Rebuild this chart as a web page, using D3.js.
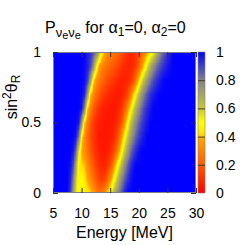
<!DOCTYPE html>
<html>
<head>
<meta charset="utf-8">
<script src="https://cdn.jsdelivr.net/npm/d3@7"></script>
<style>
  body { margin: 0; background: #fff; }
  svg text { font-family: "Liberation Sans", Arial, sans-serif; fill: #000; }
</style>
</head>
<body>
<div id="chart"></div>
<script>
// =============================================================
// DATA  (survival probability)

let energies = [5, 5.5, 6, 6.5, 7, 7.5, 8, 8.5, 9, 9.5, 10, 10.5, 11, 11.5, 12, 12.5,
                13, 13.5, 14, 14.5, 15, 15.5, 16, 16.5, 17, 17.5, 18, 18.5, 19, 19.5,
                20, 20.5, 21, 21.5, 22, 22.5, 23, 23.5, 24, 24.5, 25, 25.5, 26, 26.5,
                27, 27.5, 28, 28.5, 29, 29.5, 30];
let sin2 = [0, 0.1, 0.2, 0.3, 0.4, 0.5, 0.6, 0.7, 0.8, 0.9, 1];

// one row per sin2 value, one column per energy
let prob = [
  [1,1,1,1,1,1,.92,.75,.55,.48,.56,.48,.45,.42,.36,.30,.26,.27,.33,.42,.50,.62,.72,.80,.88,.95,1,1,1,1,1,1,1,1,1,1,1,1,1,1,1,1,1,1,1,1,1,1,1,1,1],
  [1,1,1,1,1,1,.95,.82,.60,.47,.50,.44,.38,.32,.26,.20,.15,.13,.15,.22,.33,.45,.56,.68,.78,.86,.92,.97,1,1,1,1,1,1,1,1,1,1,1,1,1,1,1,1,1,1,1,1,1,1,1],
  [1,1,1,1,1,1,.98,.90,.70,.45,.42,.40,.33,.26,.20,.14,.10,.08,.08,.11,.17,.28,.42,.52,.65,.76,.85,.92,.97,1,1,1,1,1,1,1,1,1,1,1,1,1,1,1,1,1,1,1,1,1,1],
  [1,1,1,1,1,1,1,.97,.85,.55,.38,.32,.26,.20,.15,.10,.07,.05,.05,.06,.09,.14,.22,.35,.48,.60,.72,.82,.89,.94,.98,1,1,1,1,1,1,1,1,1,1,1,1,1,1,1,1,1,1,1,1],
  [1,1,1,1,1,1,1,1,.97,.82,.45,.32,.24,.17,.12,.09,.06,.05,.05,.05,.06,.08,.13,.22,.35,.48,.60,.70,.79,.86,.91,.95,.98,1,1,1,1,1,1,1,1,1,1,1,1,1,1,1,1,1,1],
  [1,1,1,1,1,1,1,1,1,.97,.75,.42,.30,.20,.13,.09,.07,.06,.05,.05,.05,.06,.08,.12,.20,.33,.47,.60,.70,.78,.85,.90,.94,.97,1,1,1,1,1,1,1,1,1,1,1,1,1,1,1,1,1],
  [1,1,1,1,1,1,1,1,1,1,.97,.78,.42,.30,.22,.15,.11,.08,.07,.06,.05,.05,.06,.08,.12,.20,.32,.45,.57,.68,.77,.84,.90,.94,.97,1,1,1,1,1,1,1,1,1,1,1,1,1,1,1,1],
  [1,1,1,1,1,1,1,1,1,1,.99,.95,.75,.42,.32,.25,.20,.15,.12,.10,.08,.07,.06,.06,.07,.10,.16,.26,.40,.52,.64,.74,.82,.88,.93,.96,.98,1,1,1,1,1,1,1,1,1,1,1,1,1,1],
  [1,1,1,1,1,1,1,1,1,1,1,.98,.92,.75,.45,.34,.28,.24,.20,.17,.14,.12,.10,.08,.07,.07,.08,.11,.17,.28,.42,.55,.66,.75,.82,.88,.92,.95,.98,1,1,1,1,1,1,1,1,1,1,1,1],
  [1,1,1,1,1,1,1,1,1,1,1,.99,.96,.90,.78,.55,.38,.31,.28,.25,.22,.20,.17,.14,.11,.09,.08,.08,.10,.14,.22,.33,.45,.56,.67,.75,.82,.87,.91,.94,.97,.99,1,1,1,1,1,1,1,1,1],
  [1,1,1,1,1,1,1,1,1,1,1,1,.96,.93,.88,.80,.66,.48,.38,.32,.29,.27,.25,.22,.18,.14,.10,.08,.08,.10,.15,.22,.30,.38,.45,.52,.64,.74,.82,.87,.92,.96,1,1,1,1,1,1,1,1,1]
];

let xTicks  = [5, 10, 15, 20, 25, 30];
let yTicks  = [0, 0.5, 1];
let cbTicks = [0, 0.2, 0.4, 0.6, 0.8, 1];

// palette (value -> colour)
let palStops  = [0, 0.2, 0.38, 0.42, 0.5, 0.6, 0.8, 1];
let palColors = ['#ff0000', '#ff5a00', '#ffa500', '#ffe000', '#ffff00', '#c8c83c', '#80808c', '#0000ff'];

// =============================================================
// LAYOUT

let width = 249, height = 245;
let plot = { left: 53, right: 196, top: 52, bottom: 193 };
let cbar = { left: 198, right: 205 };

let x_scale = d3.scaleLinear().domain([5, 30]).range([plot.left, plot.right]);
let y_scale = d3.scaleLinear().domain([0, 1]).range([plot.bottom, plot.top]);
let colour = d3.scaleLinear().domain(palStops).range(palColors).clamp(true);

let svg = d3.select('#chart')
            .append('svg')
            .attr('width', width)
            .attr('height', height);

// =============================================================
// HEATMAP
// the grid is put in a tiny grey image (one pixel per value), the browser
// scales it smoothly, then each pixel gets its palette colour

function heatmapURL() {
    let nx = energies.length, ny = sin2.length;
    let src = document.createElement('canvas');
    src.width = nx; src.height = ny;
    let sctx = src.getContext('2d');
    let im = sctx.createImageData(nx, ny);
    prob.forEach(function (row, i) {
        row.forEach(function (v, j) {
            let k = ((ny - 1 - i) * nx + j) * 4;   // top row = sin2 = 1
            let g = Math.round(v * 255);
            im.data[k] = g; im.data[k + 1] = g; im.data[k + 2] = g; im.data[k + 3] = 255;
        });
    });
    sctx.putImageData(im, 0, 0);

    let pw = plot.right - plot.left, ph = plot.bottom - plot.top;
    let cw = (x_scale(energies[1]) - x_scale(energies[0]));
    let ch = (y_scale(sin2[0]) - y_scale(sin2[1]));
    let big = document.createElement('canvas');
    big.width = pw; big.height = ph;
    let ctx = big.getContext('2d');
    ctx.imageSmoothingEnabled = true;
    ctx.drawImage(src,
                  x_scale(energies[0]) - cw / 2 - plot.left,
                  y_scale(sin2[ny - 1]) - ch / 2 - plot.top,
                  nx * cw, ny * ch);
    let data = ctx.getImageData(0, 0, pw, ph);
    for (let k = 0; k < data.data.length; k += 4) {
        let c = d3.rgb(colour(data.data[k] / 255));
        data.data[k] = c.r; data.data[k + 1] = c.g; data.data[k + 2] = c.b; data.data[k + 3] = 255;
    }
    ctx.putImageData(data, 0, 0);
    return big.toDataURL();
}

svg.append('image')
   .attr('x', plot.left)
   .attr('y', plot.top)
   .attr('width', plot.right - plot.left)
   .attr('height', plot.bottom - plot.top)
   .attr('preserveAspectRatio', 'none')
   .attr('href', heatmapURL());

// border
svg.append('rect')
   .attr('x', plot.left + 0.5).attr('y', plot.top + 0.5)
   .attr('width', plot.right - plot.left - 1).attr('height', plot.bottom - plot.top - 1)
   .attr('fill', 'none').attr('stroke', '#808080');

// =============================================================
// AXES  (ticks point inwards, mirrored on top / right)

function styleAxis(g) {
    g.select('.domain').remove();
    g.selectAll('.tick line').attr('stroke', '#333');
    g.selectAll('text').attr('font-size', 14).attr('fill', '#000')
     .attr('font-family', '"Liberation Sans", Arial, sans-serif');
}

svg.append('g')
   .attr('transform', 'translate(0,' + plot.bottom + ')')
   .call(d3.axisBottom(x_scale).tickValues(xTicks).tickSizeInner(-5).tickSizeOuter(0).tickPadding(15))
   .call(styleAxis);

svg.append('g')
   .attr('transform', 'translate(0,' + plot.top + ')')
   .call(d3.axisTop(x_scale).tickValues(xTicks).tickSizeInner(-5).tickSizeOuter(0).tickFormat(''))
   .call(styleAxis);

svg.append('g')
   .attr('transform', 'translate(' + plot.left + ',0)')
   .call(d3.axisLeft(y_scale).tickValues(yTicks).tickSizeInner(-5).tickSizeOuter(0).tickPadding(12)
           .tickFormat(d3.format('')))
   .call(styleAxis);

svg.append('g')
   .attr('transform', 'translate(' + plot.right + ',0)')
   .call(d3.axisRight(y_scale).tickValues(yTicks).tickSizeInner(-5).tickSizeOuter(0).tickFormat(''))
   .call(styleAxis);

// =============================================================
// COLOUR BAR

let grad = svg.append('defs').append('linearGradient')
              .attr('id', 'cbgrad')
              .attr('x1', 0).attr('y1', 1).attr('x2', 0).attr('y2', 0);
grad.selectAll('stop')
    .data(palStops)
    .enter()
    .append('stop')
    .attr('offset', function (d) { return d; })
    .attr('stop-color', function (d) { return colour(d); });

svg.append('rect')
   .attr('x', cbar.left).attr('y', plot.top)
   .attr('width', cbar.right - cbar.left).attr('height', plot.bottom - plot.top)
   .attr('fill', 'url(#cbgrad)')
   .attr('stroke', '#808080').attr('stroke-width', 0.6);

svg.selectAll('.cbtick')
   .data(cbTicks.slice(1, -1))
   .enter()
   .append('line')
   .attr('class', 'cbtick')
   .attr('x1', cbar.left).attr('x2', cbar.right)
   .attr('y1', function (d) { return y_scale(d) + 0.5; })
   .attr('y2', function (d) { return y_scale(d) + 0.5; })
   .attr('stroke', '#4a3a20').attr('stroke-width', 1);

svg.selectAll('.cblabel')
   .data(cbTicks)
   .enter()
   .append('text')
   .attr('class', 'cblabel')
   .attr('x', 216)
   .attr('y', function (d) { return y_scale(d); })
   .attr('dy', '0.35em')
   .attr('font-size', 14)
   .text(function (d) { return d; });

// =============================================================
// LABELS

let parts = [
    { t: 'P',      dy: 0,  fs: 16 },
    { t: '\u03bd', dy: 4,  fs: 13 },
    { t: 'e',      dy: 2,  fs: 11 },
    { t: '\u03bd', dy: -2, fs: 13 },
    { t: 'e',      dy: 2,  fs: 11 },
    { t: ' for \u03b1', dy: -6, fs: 16 },
    { t: '1',      dy: 3,  fs: 12 },
    { t: '=0, \u03b1', dy: -3, fs: 16 },
    { t: '2',      dy: 3,  fs: 12 },
    { t: '=0',     dy: -3, fs: 16 }
];
svg.append('text')
   .attr('x', 45).attr('y', 33)
   .selectAll('tspan')
   .data(parts)
   .enter()
   .append('tspan')
   .attr('dy', function (d) { return d.dy; })
   .attr('font-size', function (d) { return d.fs; })
   .text(function (d) { return d.t; });

let ylab = svg.append('text')
              .attr('transform', 'translate(17,' + 97 + ') rotate(-90)')
              .attr('text-anchor', 'middle')
              .attr('font-size', 16);
ylab.append('tspan').text('sin');
ylab.append('tspan').attr('dy', -6).attr('font-size', 12).text('2');
ylab.append('tspan').attr('dy', 6).text('\u03b8');
ylab.append('tspan').attr('dy', 3).attr('font-size', 12).text('R');

svg.append('text')
   .attr('x', (plot.left + plot.right) / 2)
   .attr('y', 238)
   .attr('text-anchor', 'middle')
   .attr('font-size', 16)
   .text('Energy [MeV]');
</script>
</body>
</html>
